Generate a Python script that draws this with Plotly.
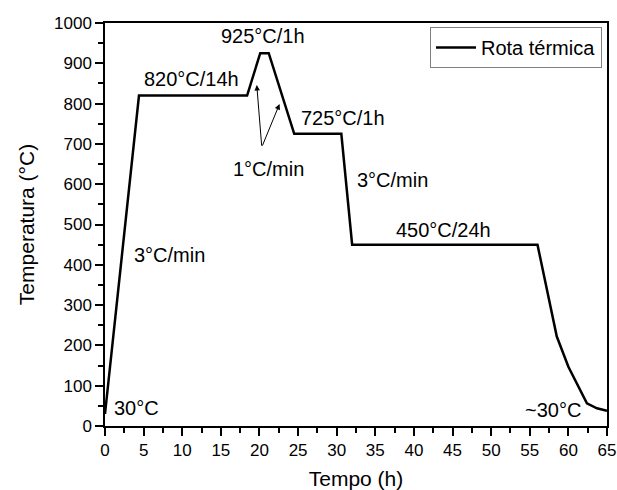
import plotly.graph_objects as go

# Thermal route data (time in h, temperature in °C)
tempo = [0, 4.4, 18.4, 20.1, 21.2, 24.5, 30.6, 32.0, 56.0, 57.2, 58.5, 60.0, 61.3, 62.4, 63.7, 65.0]
temperatura = [30, 820, 820, 925, 925, 725, 725, 450, 450, 337, 222, 147, 97, 56, 44, 38]

# Text labels (x, y, text)
label_x = [20.5, 11.2, 30.8, 37.2, 43.8, 21.2, 8.4, 4.1, 58.0]
label_y = [968, 861, 764, 610, 486, 638, 424, 45, 40]
label_text = ["925°C/1h", "820°C/14h", "725°C/1h", "3°C/min", "450°C/24h",
              "1°C/min", "3°C/min", "30°C", "~30°C"]

# Arrows: tail (shared) and heads
arrow_tail = (20.3, 692)
arrow_heads_x = [19.65, 22.6]
arrow_heads_y = [846, 799]

FONT = "Liberation Sans, Arial, sans-serif"

fig = go.Figure()
fig.add_trace(go.Scatter(
    x=tempo, y=temperatura, mode="lines", name="Rota térmica",
    line=dict(color="black", width=2.5),
))

for x, y, t in zip(label_x, label_y, label_text):
    fig.add_annotation(x=x, y=y, text=t, showarrow=False, xref="x", yref="y",
                       font=dict(family=FONT, size=20, color="black"))

for hx, hy in zip(arrow_heads_x, arrow_heads_y):
    fig.add_annotation(x=hx, y=hy, ax=arrow_tail[0], ay=arrow_tail[1],
                       xref="x", yref="y", axref="x", ayref="y", text="",
                       showarrow=True, arrowhead=2, arrowsize=1.1, arrowwidth=1,
                       arrowcolor="black")

axis_common = dict(
    showline=True, linecolor="black", linewidth=1.5, mirror=True,
    ticks="outside", ticklen=8, tickwidth=1.5, tickcolor="black",
    showgrid=False, zeroline=False, automargin=False,
    tickfont=dict(family=FONT, size=17, color="black"),
)

fig.update_xaxes(
    range=[0, 65], tickmode="linear", tick0=0, dtick=5,
    minor=dict(ticks="outside", ticklen=5, tickwidth=1.5, tickcolor="black", dtick=2.5, tick0=0),
    title=dict(text="Tempo (h)", font=dict(family=FONT, size=21, color="black"), standoff=12),
    **axis_common,
)
fig.update_yaxes(
    range=[0, 1000], tickmode="linear", tick0=0, dtick=100,
    minor=dict(ticks="outside", ticklen=5, tickwidth=1.5, tickcolor="black", dtick=50, tick0=0),
    title=dict(text="Temperatura (°C)", font=dict(family=FONT, size=21, color="black"), standoff=14),
    **axis_common,
)

fig.update_layout(
    width=617, height=490,
    margin=dict(l=105, r=10, t=23, b=64),
    paper_bgcolor="white", plot_bgcolor="white",
    showlegend=True,
    legend=dict(x=0.99, y=0.99, xanchor="right", yanchor="top",
                bordercolor="#808080", borderwidth=1, bgcolor="white",
                font=dict(family=FONT, size=20, color="black"),
                tracegroupgap=0, itemwidth=40),
    font=dict(family=FONT, color="black"),
)

fig.write_html("out.html")
